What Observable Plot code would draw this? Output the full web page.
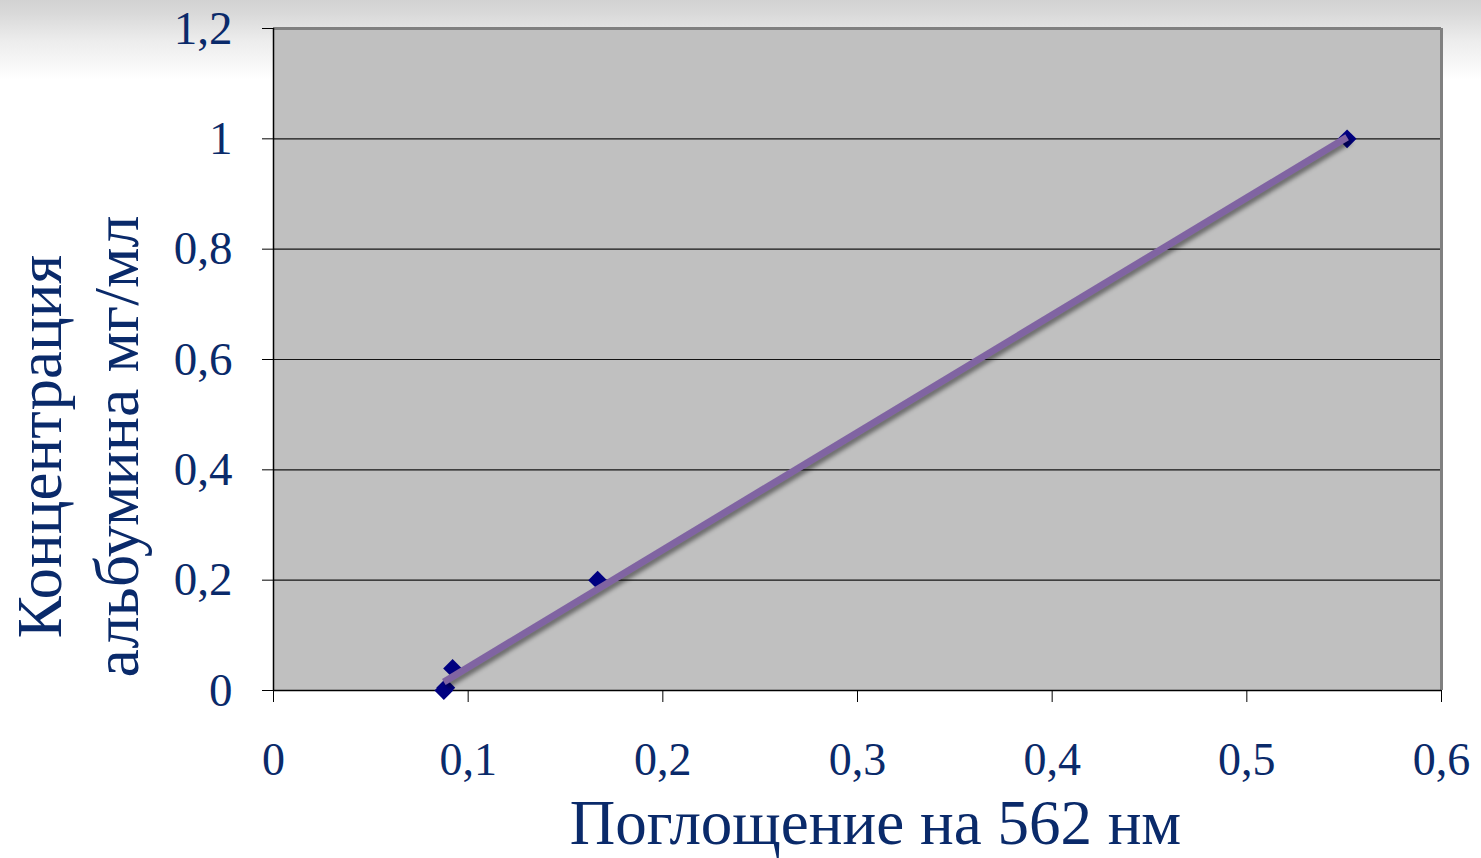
<!DOCTYPE html>
<html>
<head>
<meta charset="utf-8">
<script src="https://cdn.jsdelivr.net/npm/d3@7"></script>
<script src="https://cdn.jsdelivr.net/npm/@observablehq/plot@0.6"></script>
<style>
  html, body { margin: 0; padding: 0; }
  body {
    width: 1481px; height: 858px; overflow: hidden;
    background: linear-gradient(to bottom, #d2d2d2 0px, #d8d8d8 12px, #ececec 40px, #ffffff 80px);
  }
  #chart svg { display: block; overflow: visible; }
  g[aria-label="linear-regression"] { filter: drop-shadow(3px 3px 2px rgba(0,0,0,0.45)); }
</style>
</head>
<body>
<div id="chart"></div>
<script>
// Data
const absorbance = [0.0875, 0.0885, 0.092, 0.1665, 0.5515];
const concentration = [0, 0.005, 0.04, 0.2, 1.0];
const xTicks = [0, 0.1, 0.2, 0.3, 0.4, 0.5, 0.6];
const yTicks = [0, 0.2, 0.4, 0.6, 0.8, 1.0, 1.2];
const gridTicks = [0.2, 0.4, 0.6, 0.8, 1.0];
const xTitle = "Поглощение на 562 нм";
const yTitleLines = ["Концентрация", "альбумина мг/мл"];

const data = absorbance.map((x, i) => ({x, y: concentration[i]}));
const textColor = "#0a2a6a";
const fmt = d => String(d).replace(".", ",");

const chart = Plot.plot({
  width: 1481,
  height: 858,
  marginLeft: 273,
  marginRight: 40,
  marginTop: 28,
  marginBottom: 168,
  style: {fontFamily: "'Liberation Serif', 'Times New Roman', serif", background: "transparent", color: textColor},
  x: {domain: [0, 0.6]},
  y: {domain: [0, 1.2]},
  marks: [
    Plot.frame({fill: "#c0c0c0", stroke: null}),
    Plot.ruleY(gridTicks, {stroke: "#000", strokeWidth: 1.2, strokeOpacity: 0.9}),
    Plot.ruleY([1.2], {stroke: "#808080", strokeWidth: 3}),
    Plot.ruleX([0.6], {stroke: "#808080", strokeWidth: 3}),
    Plot.ruleX([0], {stroke: "#000", strokeWidth: 1.5}),
    Plot.ruleY([0], {stroke: "#000", strokeWidth: 1.5}),
    Plot.axisX({ticks: xTicks, tickFormat: fmt, tickSize: 12, tickPadding: 40, fontSize: 46, fill: textColor, stroke: "#000", label: null}),
    Plot.axisY({ticks: yTicks, tickFormat: fmt, tickSize: 11, tickPadding: 30, fontSize: 47, fill: textColor, stroke: "#000", label: null}),
    Plot.dot(data, {x: "x", y: "y", symbol: "diamond2", r: 8.5, fill: "#000080", stroke: null}),
    Plot.linearRegressionY(data, {x: "x", y: "y", ci: 0, stroke: "#8064a2", strokeWidth: 7, strokeLinecap: "butt"}),
    Plot.text([xTitle], {frameAnchor: "bottom", textAnchor: "middle", lineAnchor: "bottom", dy: 153, dx: 18, fontSize: 63, fill: textColor}),
    Plot.text([yTitleLines[0]], {frameAnchor: "left", textAnchor: "middle", lineAnchor: "bottom", rotate: -90, dx: -213, dy: 87, fontSize: 63, fill: textColor}),
    Plot.text([yTitleLines[1]], {frameAnchor: "left", textAnchor: "middle", lineAnchor: "bottom", rotate: -90, dx: -136, dy: 87, fontSize: 64, fill: textColor})
  ]
});
document.getElementById("chart").append(chart);
</script>
</body>
</html>
